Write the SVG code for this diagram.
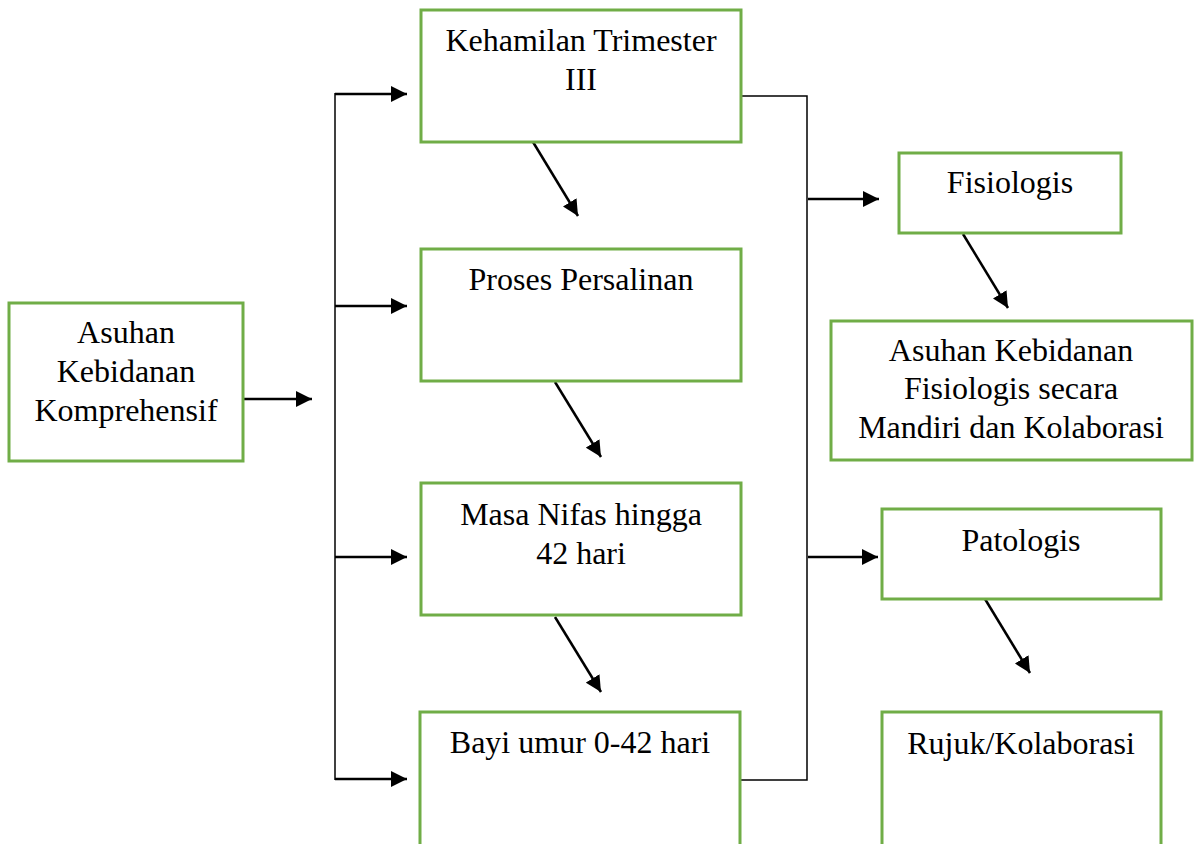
<svg xmlns="http://www.w3.org/2000/svg" width="1198" height="844" viewBox="0 0 1198 844">
<style>
.box{fill:#fff;stroke:#70ad47;stroke-width:3}
.t{font-family:"Liberation Serif","Times New Roman",serif;font-size:32px;fill:#000;text-anchor:middle}
.arr{stroke:#000;stroke-width:2.5;fill:none;marker-end:url(#ah)}
.ln{stroke:#000;stroke-width:1.5;fill:none}
</style>
<defs>
<marker id="ah" markerUnits="userSpaceOnUse" markerWidth="18" markerHeight="16" refX="16" refY="8" orient="auto">
<path d="M0,0 L16,8 L0,16 z" fill="#000"/>
</marker>
</defs>
<rect width="1198" height="844" fill="#fff"/>
<g id="connectors">
<path class="ln" d="M335,93 V780"/>
<line class="arr" x1="335" y1="94" x2="407" y2="94"/>
<line class="arr" x1="335" y1="306" x2="407" y2="306"/>
<line class="arr" x1="335" y1="557" x2="407" y2="557"/>
<line class="arr" x1="335" y1="779" x2="407" y2="779"/>
<line class="arr" x1="243" y1="399" x2="312" y2="399"/>
<path class="ln" d="M742,96 H807 V780 H741"/>
<line class="arr" x1="808" y1="199" x2="879" y2="199"/>
<line class="arr" x1="808" y1="557" x2="878" y2="557"/>
<line class="arr" x1="533" y1="142" x2="578" y2="216"/>
<line class="arr" x1="555" y1="382" x2="601" y2="457"/>
<line class="arr" x1="555" y1="617" x2="601" y2="692"/>
<line class="arr" x1="963" y1="234" x2="1008" y2="308"/>
<line class="arr" x1="985" y1="599" x2="1030" y2="673"/>
</g>
<g id="n-asuhan">
<rect class="box" x="9" y="303" width="234" height="158"/>
<text class="t" x="126" y="343">Asuhan</text>
<text class="t" x="126" y="382">Kebidanan</text>
<text class="t" x="126" y="421">Komprehensif</text>
</g>
<g id="n-kehamilan">
<rect class="box" x="421" y="10" width="320" height="132"/>
<text class="t" x="581" y="51">Kehamilan Trimester</text>
<text class="t" x="581" y="90">III</text>
</g>
<g id="n-proses">
<rect class="box" x="421" y="249" width="320" height="132"/>
<text class="t" x="581" y="290">Proses Persalinan</text>
</g>
<g id="n-nifas">
<rect class="box" x="421" y="483" width="320" height="132"/>
<text class="t" x="581" y="525">Masa Nifas hingga</text>
<text class="t" x="581" y="564">42 hari</text>
</g>
<g id="n-bayi">
<rect class="box" x="420" y="712" width="320" height="140"/>
<text class="t" x="580" y="753">Bayi umur 0-42 hari</text>
</g>
<g id="n-fisiologis">
<rect class="box" x="899" y="153" width="222" height="80"/>
<text class="t" x="1010" y="193">Fisiologis</text>
</g>
<g id="n-asuhan-fis">
<rect class="box" x="831" y="321" width="361" height="139"/>
<text class="t" x="1011" y="361">Asuhan Kebidanan</text>
<text class="t" x="1011" y="399">Fisiologis secara</text>
<text class="t" x="1011" y="438">Mandiri dan Kolaborasi</text>
</g>
<g id="n-patologis">
<rect class="box" x="882" y="509" width="279" height="90"/>
<text class="t" x="1021" y="551">Patologis</text>
</g>
<g id="n-rujuk">
<rect class="box" x="882" y="712" width="279" height="140"/>
<text class="t" x="1021" y="754">Rujuk/Kolaborasi</text>
</g>
</svg>
